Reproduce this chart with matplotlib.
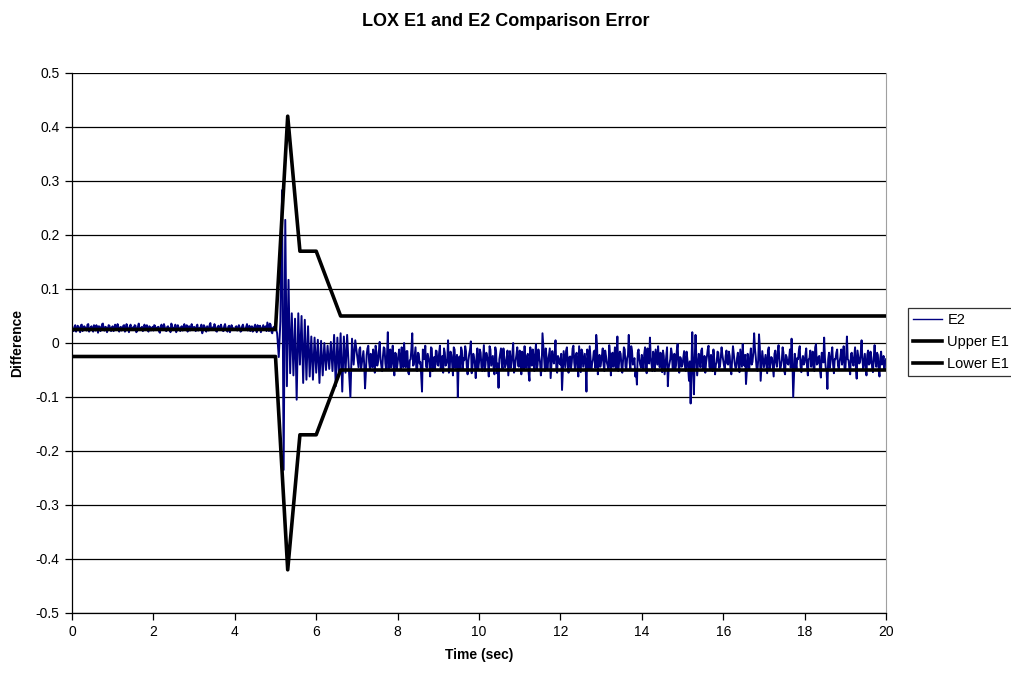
import matplotlib
matplotlib.use('Agg')
import matplotlib.pyplot as plt
import numpy as np

plt.rcParams['font.family'] = ['Liberation Sans', 'DejaVu Sans']

# E2 difference in thousandths.
# Before and after the transient the record is stored as even / odd samples
# (0.04 s apart each, interleaved to 0.02 s); the transient itself is 0.04 s.
e2_pre = [  # 0.00 - 4.96 s
    27, 22, 33, 25, 30, 20, 34, 26, 29, 23, 35, 24, 31, 21, 28, 33, 19, 30, 26, 36, 23, 29, 25, 32, 22,
    31, 24, 28, 35, 21, 30, 26, 33, 23, 29, 20, 34, 27, 25, 32, 22, 36, 26, 30, 24, 28, 33, 21, 29, 27,
    23, 32, 26, 30, 19, 34, 25, 29, 22, 31, 27, 36, 24, 28, 20, 33, 26, 30, 23, 35, 25, 21, 31, 27, 24,
    30, 22, 34, 26, 29, 18, 33, 25, 31, 23, 37, 27, 24, 30, 21, 32, 26, 28, 22, 35, 25, 30, 20, 33, 27,
    24, 31, 26, 29, 22, 34, 25, 30, 23, 32, 27, 21, 30, 25, 33, 26, 20, 29, 24, 31, 38, 22, 34, 18, 30,
]
e2_pre_mid = [  # 0.02 - 4.98 s
    25, 30, 21, 32, 24, 33, 22, 31, 26, 34, 21, 29, 25, 33, 23, 27, 31, 22, 35, 24, 30, 20, 33, 26, 29,
    22, 34, 25, 30, 27, 23, 32, 21, 35, 26, 31, 24, 29, 33, 20, 30, 25, 28, 22, 34, 26, 24, 31, 23, 30,
    33, 24, 29, 21, 31, 26, 35, 23, 30, 25, 20, 32, 27, 34, 24, 29, 22, 31, 28, 24, 33, 30, 23, 35, 28,
    25, 31, 23, 28, 34, 24, 30, 21, 27, 33, 25, 29, 35, 22, 30, 26, 34, 23, 31, 27, 21, 32, 26, 29, 24,
    30, 23, 33, 21, 31, 27, 24, 35, 28, 22, 31, 26, 34, 20, 29, 32, 25, 33, 27, 22, 30, 36, 21, 28, 25,
]
e2_trans = [  # 5.00 - 6.96 s
    30, 18, -26, 40, 283, -235, 228, -80, 117, -56, 55, -60, 45, -105, 55, -40, 50, -74, 43, -68,
    31, -62, 12, -68, 10, -55, 6, -74, 4, -60, 0, -50, -5, -48, 2, -52, 15, -80, 10, -60,
    18, -90, 12, -55, 15, -45, -100, 8, -40, 5,
]
e2_post = [  # 7.00 - 20.00 s
    -20, -45, -8, -38, -15, -84, -22, -5, -48, -30, -12, -55, -18, -35, 2, -42, -25, -10, -50, 20, -28, -45, -5, -60, -20,
    -38, -12, -50, -25, 0, -45, -15, -58, -30, 18, -40, -8, -52, -20, -35, -90, -18, -5, -46, -28, -62, -10, -33, -48, -15,
    -42, -5, -30, -55, -18, -38, 5, -48, -22, -60, -12, -35, -100, -25, -8, -50, -32, -15, -58, -20, 3, -44, -28, -65, -10,
    -36, -18, -52, -4, -40, -25, -62, -12, -33, -48, -8, -56, -83, -20, -38, -10, -45, -28, -60, -15, -35, 0, -50, -22, -42,
    -14, -58, -30, -6, -46, -20, -70, -35, -12, -52, -2, -40, -26, -60, 18, -30, -10, -48, -22, -65, -15, -38, 5, -55, -28,
    -40, -87, -15, -45, -8, -55, -25, -35, -5, -50, -18, -62, -30, -12, -44, -20, -90, -26, -6, -48, -32, -14, 15, -58, -22,
    -36, -10, -52, -24, -42, -4, -60, -18, -30, -48, 12, -38, -20, -55, -8, -44, -28, 15, -50, -15, -35, -62, -77, -12, -40,
    -22, -48, -8, -56, -30, 10, -40, -16, -52, -26, -6, -45, -34, -14, -58, -24, -80, -38, -10, -50, -20, -42, -2, -55, -28,
    -40, -15, -52, -30, -70, -112, 20, -95, 15, -60, -20, -45, -10, -38, -55, -25, -5, -48, -30, -12, -58, -36, -18, -44, -8,
    -32, -50, -14, -40, -24, -58, -6, -36, -46, -18, -54, -28, -2, -42, -76, -20, -48, -10, -35, 18, -26, -52, 16, -70, -15,
    -45, -22, -56, -8, -38, -28, -62, -14, -44, -4, -50, -32, -18, -58, -26, -40, -12, 8, -100, -20, -48, -30, -6, -54, -24,
    -36, -10, -60, -28, -44, -16, -52, -2, -38, -24, -64, -20, 10, -46, -85, -18, -34, -8, -56, -30, -12, -48, -26, -40, -6,
    -50, 12, -32, -58, -18, -42, -8, -66, -26, -36, 5, -48, -20, -60, -14, -38, -28, -54, -4, -44, -22, -62, -16, -34, -50,
    -30,
]
e2_post_mid = [  # 7.02 - 19.98 s
    -32, -12, -50, -25, -40, -55, -10, -35, -20, -45, -28, -5, -42, -15, -30, -52, -8, -38, -22, -48, -12, -33, -40, -18, -50,
    -22, -35, -8, -45, -28, -15, -55, -32, -10, -42, -25, -48, -18, -38, -60, -12, -30, -44, -20, -36, -8, -52, -26, -14, -40,
    -18, -48, -24, -10, -42, -30, -55, -16, -38, -8, -46, -22, -34, -50, -14, -28, -6, -44, -32, -12, -56, -20, -40, -26, -48,
    -12, -44, -28, -52, -18, -34, -6, -42, -24, -58, -16, -38, -30, -10, -50, -26, -40, -14, -36, -46, -20, -55, -32, -8, -44,
    -30, -16, -48, -38, -24, -56, -8, -42, -28, -20, -50, -12, -36, -44, -6, -52, -26, -34, -10, -40, -30, -18, -46, -24, -38,
    -20, -52, -30, -14, -40, -26, -48, -10, -36, -22, -44, -6, -54, -18, -32, -42, -12, -50, -28, -38, -16, -46, -4, -34, -44,
    -24, -40, -14, -36, -50, -20, -32, -44, -8, -26, -52, -16, -42, -30, -12, -48, -22, -36, -6, -40, -28, -54, -18, -30, -46,
    -36, -20, -44, -10, -38, -26, -52, -28, -12, -40, -32, -18, -54, -24, -42, -8, -46, -30, -20, -36, -50, -14, -38, -26, -44,
    -28, -42, -16, -48, -34, -40, -50, -30, -26, -40, -34, -14, -48, -24, -36, -12, -44, -22, -52, -30, -40, -16, -46, -28, -22,
    -42, -24, -38, -16, -50, -30, -20, -46, -28, -40, -12, -44, -34, -22, -52, -36, -26, -40, -18, -10, -46, -32, -8, -44, -30,
    -34, -40, -14, -48, -26, -44, -20, -36, -16, -30, -42, -8, -52, -22, -38, -28, -46, -30, -60, -36, -28, -14, -42, -32, -40,
    -22, -44, -30, -14, -36, -48, -8, -40, -26, -52, -18, -36, -28, -50, -30, -46, -20, -40, -30, -18, -42, -34, -12, -28, -46,
    -24, -30, -48, -20, -36, -26, -46, -14, -38, -18, -30, -34, -44, -22, -40, -16, -46, -26, -32, -18, -50, -28, -40, -24, -36,
]

# E1 error bounds (breakpoints)
bound_t = [0, 5.0, 5.3, 5.6, 6.0, 6.6, 20]
upper_e1 = [0.025, 0.025, 0.42, 0.17, 0.17, 0.05, 0.05]
lower_e1 = [-0.025, -0.025, -0.42, -0.17, -0.17, -0.05, -0.05]

x_ticks = [0, 2, 4, 6, 8, 10, 12, 14, 16, 18, 20]
y_ticks = [0.5, 0.4, 0.3, 0.2, 0.1, 0, -0.1, -0.2, -0.3, -0.4, -0.5]
y_labels = ['0.5', '0.4', '0.3', '0.2', '0.1', '0', '-0.1', '-0.2', '-0.3', '-0.4', '-0.5']

# interleave even/odd samples
pre = np.empty(len(e2_pre) + len(e2_pre_mid))
pre[0::2] = e2_pre
pre[1::2] = e2_pre_mid
post = np.empty(len(e2_post) + len(e2_post_mid))
post[0::2] = e2_post
post[1::2] = e2_post_mid

t_pre = np.arange(len(pre)) * 0.02
t_trans = 5.0 + np.arange(len(e2_trans)) * 0.04
t_post = 7.0 + np.arange(len(post)) * 0.02

time = np.concatenate([t_pre, t_trans, t_post])
e2 = np.concatenate([pre, e2_trans, post]) / 1000.0

fig = plt.figure(figsize=(10.11, 6.73), dpi=100)
ax = fig.add_axes([72 / 1011, 1 - 613 / 673, 814 / 1011, 540 / 673])

for y in y_ticks:
    ax.axhline(y, color='black', lw=0.9, zorder=1)

ax.plot(time, e2, color='#000080', lw=1.4, label='E2', zorder=2)
ax.plot(bound_t, upper_e1, color='black', lw=2.6, label='Upper E1', zorder=3)
ax.plot(bound_t, lower_e1, color='black', lw=2.6, label='Lower E1', zorder=3)

ax.set_xlim(0, 20)
ax.set_ylim(-0.5, 0.5)
ax.set_xticks(x_ticks)
ax.set_yticks(y_ticks)
ax.set_yticklabels(y_labels)
ax.tick_params(direction='out', length=5, width=0.9, labelsize=10, pad=4)

ax.spines['top'].set_visible(False)
ax.spines['right'].set_color('#a0a0a0')
ax.spines['left'].set_linewidth(0.9)
ax.spines['bottom'].set_linewidth(0.9)

ax.set_xlabel('Time (sec)', fontsize=10, fontweight='bold', labelpad=6)
ax.set_ylabel('Difference', fontsize=10, fontweight='bold', labelpad=8)
fig.suptitle('LOX E1 and E2 Comparison Error', x=0.5, y=1 - 13 / 673, va='top',
             fontsize=13, fontweight='bold')

leg = fig.legend(loc='upper left', bbox_to_anchor=(908 / 1011, 1 - 308 / 673),
                 fontsize=10.5, frameon=True, fancybox=False, edgecolor='black',
                 handlelength=2.0, handletextpad=0.35, borderpad=0.35,
                 labelspacing=0.55, borderaxespad=0)
leg.get_frame().set_linewidth(0.9)
leg.get_lines()[0].set_linewidth(1.0)

fig.savefig('out.png', dpi=100)
